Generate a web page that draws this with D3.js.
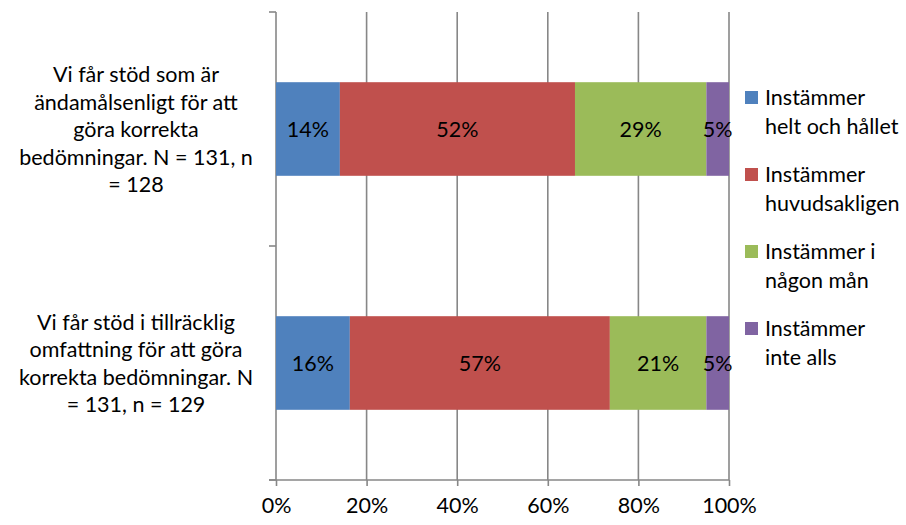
<!DOCTYPE html>
<html>
<head>
<meta charset="utf-8">
<script src="https://cdn.jsdelivr.net/npm/d3@7"></script>
<style>
  html, body { margin: 0; padding: 0; background: #fff; }
  svg text { font-family: Lato, "Open Sans", sans-serif; fill: #000; }
</style>
</head>
<body>
<svg id="chart" width="906" height="525"></svg>
<script>
// ---- data ----
const categories = [
  "Vi får stöd som är\nändamålsenligt för att\ngöra korrekta\nbedömningar. N = 131, n\n= 128",
  "Vi får stöd i tillräcklig\nomfattning för att göra\nkorrekta bedömningar. N\n= 131, n = 129"
];
const seriesNames = [
  "Instämmer\nhelt och hållet",
  "Instämmer\nhuvudsakligen",
  "Instämmer i\nnågon mån",
  "Instämmer\ninte alls"
];
const helt = [14.1, 16.3];
const huvudsakligen = [51.9, 57.4];
const nagonMan = [29.0, 21.3];
const inteAlls = [5.0, 5.0];
const tickValues = [0, 20, 40, 60, 80, 100];
const tickLabels = ["0%", "20%", "40%", "60%", "80%", "100%"];
const colors = ["#4F81BD", "#C0504D", "#9BBB59", "#8064A2"];

// ---- layout ----
const svg = d3.select("#chart");
const pLeft = 276, pRight = 729, pTop = 12, pBottom = 480;
const axisColor = "#878787";
const fontSize = 21.5;

const x = d3.scaleLinear().domain([0, 100]).range([pLeft, pRight]);
const y = d3.scaleBand().domain(categories).range([pTop, pBottom])
  .paddingInner(0.6).paddingOuter(0.3);

const seriesValues = [helt, huvudsakligen, nagonMan, inteAlls];
const rows = categories.map((c, i) => {
  const r = { cat: c };
  seriesNames.forEach((s, k) => r[s] = seriesValues[k][i]);
  return r;
});
const stack = d3.stack().keys(seriesNames)(rows);

// gridlines
svg.append("g").selectAll("line").data(tickValues).join("line")
  .attr("x1", d => x(d)).attr("x2", d => x(d))
  .attr("y1", pTop).attr("y2", pBottom)
  .attr("stroke", axisColor).attr("stroke-width", 1.6);

// bottom axis
const xAxis = d3.axisBottom(x).tickValues(tickValues)
  .tickFormat((d, i) => tickLabels[i]).tickSizeInner(6).tickSizeOuter(0).tickPadding(12);
const gx = svg.append("g").attr("transform", `translate(0,${pBottom})`).call(xAxis);
gx.select(".domain").attr("stroke", axisColor).attr("stroke-width", 1.6)
  .attr("d", `M${pLeft - 7},0H${pRight}`);
gx.selectAll(".tick line").attr("stroke", axisColor).attr("stroke-width", 1.6);
gx.selectAll(".tick text").attr("font-size", fontSize).attr("font-family", "Lato, sans-serif")
  .attr("fill", "#000");

// left axis ticks at category boundaries
const step = y.step();
const boundaries = [pTop, y(categories[0]) + y.bandwidth() + (step - y.bandwidth()) / 2, pBottom];
svg.append("g").selectAll("line").data(boundaries).join("line")
  .attr("x1", pLeft - 7).attr("x2", pLeft).attr("y1", d => d).attr("y2", d => d)
  .attr("stroke", axisColor).attr("stroke-width", 1.6);

// bars
const gBars = svg.append("g");
stack.forEach((layer, k) => {
  gBars.append("g").attr("fill", colors[k]).selectAll("rect").data(layer).join("rect")
    .attr("x", d => x(d[0])).attr("width", d => x(d[1]) - x(d[0]))
    .attr("y", d => y(d.data.cat)).attr("height", y.bandwidth());
});
// data labels
stack.forEach((layer, k) => {
  gBars.append("g").selectAll("text").data(layer).join("text")
    .attr("x", d => (x(d[0]) + x(d[1])) / 2)
    .attr("y", d => y(d.data.cat) + y.bandwidth() / 2)
    .attr("text-anchor", "middle").attr("dominant-baseline", "central")
    .attr("font-size", fontSize)
    .text(d => Math.round(d[1] - d[0]) + "%");
});

// category labels
const lh = 27.5;
categories.forEach(c => {
  const lines = c.split("\n");
  const cy = y(c) + y.bandwidth() / 2;
  const t = svg.append("text").attr("text-anchor", "middle").attr("font-size", fontSize);
  lines.forEach((ln, i) => {
    t.append("tspan").attr("x", 136)
      .attr("y", cy + (i - (lines.length - 1) / 2) * lh)
      .attr("dominant-baseline", "central").text(ln);
  });
});

// legend
const lg = svg.append("g");
seriesNames.forEach((s, k) => {
  const baseY = 97 + k * 77;
  lg.append("rect").attr("x", 745).attr("y", baseY - 6).attr("width", 13).attr("height", 13)
    .attr("fill", colors[k]);
  const t = lg.append("text").attr("font-size", fontSize);
  s.split("\n").forEach((ln, i) => {
    t.append("tspan").attr("x", 765).attr("y", baseY + i * 29)
      .attr("dominant-baseline", "central").text(ln);
  });
});
</script>
</body>
</html>
